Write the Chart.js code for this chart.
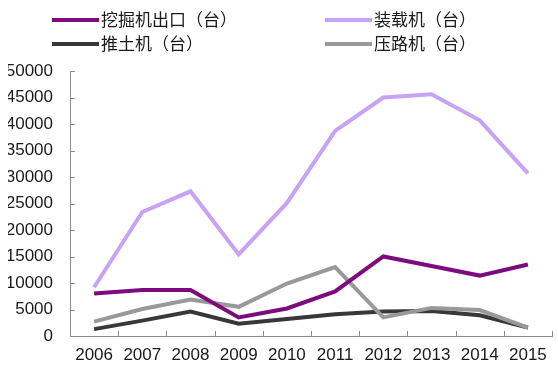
<!DOCTYPE html>
<html>
<head>
<meta charset="utf-8">
<script src="https://cdn.jsdelivr.net/npm/chart.js@4/dist/chart.umd.min.js"></script>
<style>
  html, body { margin: 0; padding: 0; background: #fff; }
  #wrap { position: relative; width: 558px; height: 381px; }
</style>
</head>
<body>
<div id="wrap"><canvas id="chart" width="558" height="381"></canvas></div>
<script>
const years = ["2006", "2007", "2008", "2009", "2010", "2011", "2012", "2013", "2014", "2015"];
const excavatorExport = [8000, 8700, 8700, 3500, 5200, 8400, 15000, 13200, 11400, 13500];
const loader = [9200, 23400, 27300, 15400, 25100, 38700, 45000, 45600, 40700, 30700];
const bulldozer = [1300, 2900, 4600, 2300, 3200, 4100, 4600, 4700, 3900, 1600];
const roller = [2700, 5100, 6900, 5500, 9900, 13000, 3500, 5300, 4900, 1600];
const seriesNames = ["挖掘机出口（台）", "装载机（台）", "推土机（台）", "压路机（台）"];

const axisColor = "#8c8c8c";
const textFont = "'Liberation Sans', 'Noto Sans CJK SC', Arial, sans-serif";

// legend laid out in two columns like the original
const legendSpots = [[52, 20], [325, 20], [52, 44], [325, 44]];

const legendPlugin = {
    id: "twoColLegend",
    afterDraw(chart) {
        const ctx = chart.ctx;
        ctx.save();
        ctx.font = "17px " + textFont;
        ctx.textBaseline = "middle";
        chart.data.datasets.forEach((ds, i) => {
            const [x, y] = legendSpots[i];
            ctx.strokeStyle = ds.borderColor;
            ctx.lineWidth = 4;
            ctx.beginPath();
            ctx.moveTo(x, y);
            ctx.lineTo(x + 47, y);
            ctx.stroke();
            ctx.fillStyle = "#1a1a1a";
            ctx.fillText(ds.label, x + 49, y + 1);
        });
        ctx.restore();
    }
};

// short tick marks pointing into the plot
const innerTicks = {
    id: "innerTicks",
    afterDraw(chart) {
        const ctx = chart.ctx;
        const xs = chart.scales.x, ys = chart.scales.y;
        ctx.save();
        ctx.strokeStyle = axisColor;
        ctx.lineWidth = 1;
        ctx.beginPath();
        ys.ticks.forEach((t, i) => {
            const py = Math.round(ys.getPixelForTick(i)) + 0.5;
            ctx.moveTo(xs.left, py);
            ctx.lineTo(xs.left + 5, py);
        });
        for (let i = 0; i <= years.length; i++) {
            const px = Math.round(xs.left + (xs.right - xs.left) * i / years.length) + 0.5;
            ctx.moveTo(px, ys.bottom);
            ctx.lineTo(px, ys.bottom - 5);
        }
        ctx.stroke();
        ctx.restore();
    }
};

new Chart(document.getElementById("chart"), {
    type: "line",
    data: {
        labels: years,
        datasets: [
            { label: seriesNames[0], data: excavatorExport, borderColor: "#7d0b7d", order: 0 },
            { label: seriesNames[1], data: loader, borderColor: "#c7a3f5", order: 3 },
            { label: seriesNames[2], data: bulldozer, borderColor: "#383838", order: 2 },
            { label: seriesNames[3], data: roller, borderColor: "#999999", order: 1 }
        ]
    },
    options: {
        responsive: false,
        animation: false,
        devicePixelRatio: 1,
        elements: {
            line: { borderWidth: 4, tension: 0, borderCapStyle: "butt", borderJoinStyle: "miter" },
            point: { radius: 0 }
        },
        layout: { padding: { top: 71, left: 8, right: 6, bottom: 15 } },
        plugins: {
            legend: { display: false },
            tooltip: { enabled: false }
        },
        scales: {
            x: {
                offset: true,
                grid: { display: false, drawTicks: false },
                border: { display: true, color: axisColor, width: 1 },
                afterFit: s => { s.height = 30; },
                ticks: {
                    color: "#1a1a1a",
                    font: { size: 17, family: textFont },
                    padding: 9,
                    maxRotation: 0,
                    autoSkip: false
                }
            },
            y: {
                min: 0,
                max: 50000,
                grid: { display: false, drawTicks: false },
                border: { display: true, color: axisColor, width: 1 },
                afterFit: s => { s.width = 62; },
                ticks: {
                    stepSize: 5000,
                    color: "#1a1a1a",
                    font: { size: 17, family: textFont },
                    padding: 17,
                    callback: v => String(v)
                }
            }
        }
    },
    plugins: [legendPlugin, innerTicks]
});
</script>
</body>
</html>
